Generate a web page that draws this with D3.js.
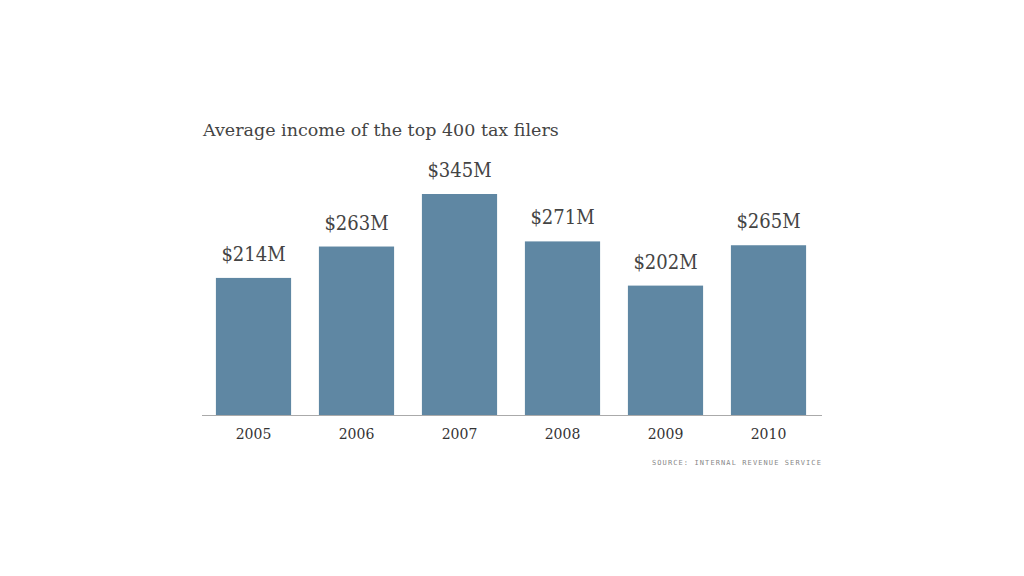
<!DOCTYPE html>
<meta charset="utf-8">
<style>
    body { margin: 0; background: #fff; }
    .title { font-family: "DejaVu Serif", serif; font-size: 17.5px; fill: #444; }
    .val { font-family: "DejaVu Serif Condensed", "DejaVu Serif", serif; font-size: 20px; fill: #444; }
    .year { font-family: "DejaVu Serif", serif; font-size: 14px; fill: #333; }
    .source { font-family: "DejaVu Sans Mono", monospace; font-size: 7px; fill: #888; letter-spacing: 1.1px; }
</style>
<svg width="1024" height="576"></svg>
<script src="https://cdn.jsdelivr.net/npm/d3@7"></script>
<script>

    var years = ["2005", "2006", "2007", "2008", "2009", "2010"];
    var income = [214, 263, 345, 271, 202, 265];
    var labels = ["$214M", "$263M", "$345M", "$271M", "$202M", "$265M"];

    var svg = d3.select("svg");

    var x = d3.scaleBand()
        .domain(years)
        .range([202, 820])
        .paddingInner(0.27)
        .paddingOuter(0.135);

    var y = d3.scaleLinear()
        .domain([0, 345])
        .range([415, 194]);

    svg.append("text")
        .attr("class", "title")
        .attr("x", 203)
        .attr("y", 136)
        .text("Average income of the top 400 tax filers");

    svg.selectAll(".bar")
        .data(income)
        .enter().append("rect")
        .attr("class", "bar")
        .attr("x", function (d, i) { return x(years[i]); })
        .attr("y", function (d) { return y(d); })
        .attr("width", x.bandwidth())
        .attr("height", function (d) { return y(0) - y(d); })
        .attr("fill", "#5f87a3");

    svg.selectAll(".val")
        .data(income)
        .enter().append("text")
        .attr("class", "val")
        .attr("text-anchor", "middle")
        .attr("x", function (d, i) { return x(years[i]) + x.bandwidth() / 2; })
        .attr("y", function (d) { return y(d) - 17; })
        .text(function (d, i) { return labels[i]; });

    // baseline + year labels
    var axis = svg.append("g")
        .attr("transform", "translate(0,415)")
        .call(d3.axisBottom(x).tickSize(0).tickPadding(14));
    axis.select(".domain").attr("stroke", "#aaa").attr("d", "M202,0.5H822");
    axis.selectAll("text")
        .attr("class", "year")
        .attr("fill", null)
        .attr("font-family", null)
        .attr("font-size", null);

    svg.append("text")
        .attr("class", "source")
        .attr("x", 822)
        .attr("y", 465)
        .attr("text-anchor", "end")
        .text("SOURCE: INTERNAL REVENUE SERVICE");

</script>
